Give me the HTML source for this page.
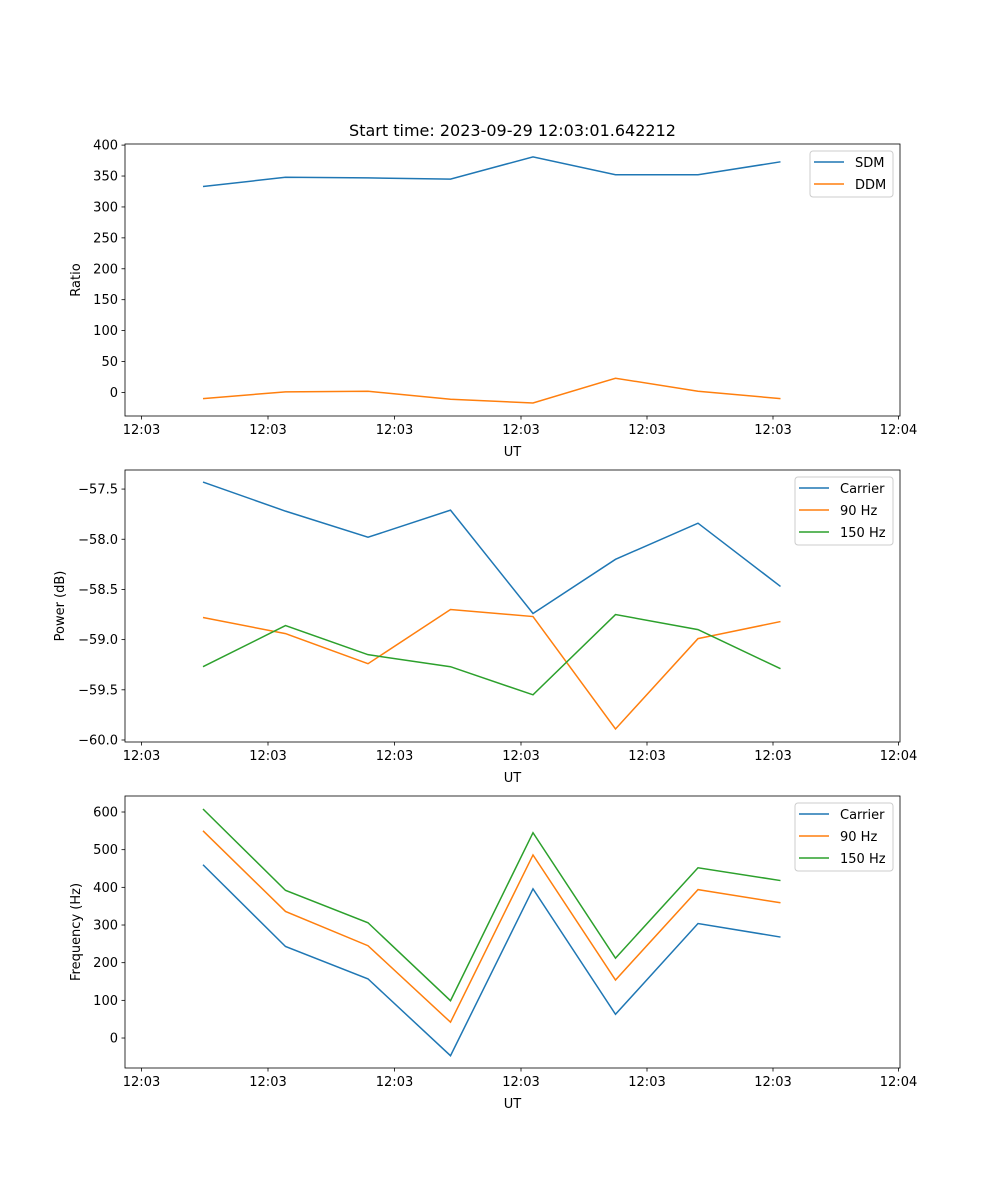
<!DOCTYPE html>
<html><head><meta charset="utf-8"><style>
body{margin:0;background:#fff;}
svg{display:block;font-family:"DejaVu Sans","Liberation Sans",sans-serif;}
</style></head><body>
<svg id="fig" width="1000" height="1200" xmlns="http://www.w3.org/2000/svg"></svg>
<script>
const categories = ["p0","p1","p2","p3","p4","p5","p6","p7"];
const xTickLabels = ["12:03","12:03","12:03","12:03","12:03","12:03","12:04"];
const sdm = [333,348,347,345,381,352,352,373];
const ddm = [-10,1,2,-11,-17,23,2,-10];
const powCarrier = [-57.43,-57.72,-57.98,-57.71,-58.74,-58.20,-57.84,-58.47];
const pow90 = [-58.78,-58.94,-59.24,-58.70,-58.77,-59.89,-58.99,-58.82];
const pow150 = [-59.27,-58.86,-59.15,-59.27,-59.55,-58.75,-58.90,-59.29];
const freqCarrier = [460,243,157,-47,396,63,304,268];
const freq90 = [550,336,245,42,486,154,394,359];
const freq150 = [608,392,306,99,545,212,452,418];
const ratioTicks = [0,50,100,150,200,250,300,350,400];
const powTicks = [-60.0,-59.5,-59.0,-58.5,-58.0,-57.5];
const freqTicks = [0,100,200,300,400,500,600];

const NS="http://www.w3.org/2000/svg";
const svg=document.getElementById('fig');
function el(tag,attrs,parent){const e=document.createElementNS(NS,tag);for(const k in attrs)e.setAttribute(k,attrs[k]);(parent||svg).appendChild(e);return e;}
const L=125,R=900;
// x scale: category index
function xs(i){return 203+i*82.5;}
const xTickPos=[141.5,268,394.5,521,647,773,898.5];
const C=["#1f77b4","#ff7f0e","#2ca02c"];

function panel(name,top,bottom,ymin,ymax,ticks,fmt,ylabel,series,labels,legend){
  const g=el('g',{});
  
  
  const ys=v=>bottom-(v-ymin)/(ymax-ymin)*(bottom-top);
  ticks.forEach(t=>{
    const y=ys(t);
    el('line',{x1:L-3.5,x2:L,y1:y,y2:y,stroke:'#000','stroke-width':0.8},g);
    const tx=el('text',{x:L-7,y:y+4.5,'text-anchor':'end','font-size':13},g);
    tx.textContent=fmt(t);
    
    
  });
  xTickPos.forEach((x,i)=>{
    el('line',{x1:x,x2:x,y1:bottom,y2:bottom+3.5,stroke:'#000','stroke-width':0.8},g);
    const tx=el('text',{x:x,y:bottom+18,'text-anchor':'middle','font-size':13},g);
    tx.textContent=xTickLabels[i];
    
    
  });
  series.forEach((s,k)=>{
    const p=el('polyline',{points:s.map((v,i)=>xs(i)+','+ys(v)).join(' '),fill:'none',stroke:C[k],'stroke-width':1.5},g);
    
    
  });
  el('rect',{x:L,y:top,width:R-L,height:bottom-top,fill:'none',stroke:'#000','stroke-width':0.8},g);
  const xl=el('text',{x:(L+R)/2,y:bottom+40,'text-anchor':'middle','font-size':13},g);
  xl.textContent='UT';
  
  
  const yl=el('text',{x:0,y:0,'text-anchor':'middle','font-size':13,transform:`translate(${legend.ylx},${(top+bottom)/2}) rotate(-90)`},g);
  yl.textContent=ylabel;
  
  
  const lg=el('g',{},g);
  
  
  el('rect',{x:legend.x,y:top+7,width:legend.w,height:labels.length*22+2,rx:3,fill:'#fff',stroke:'#ccc','stroke-width':1},lg);
  labels.forEach((lab,k)=>{
    const y=top+18+k*22;
    el('line',{x1:legend.x+4,x2:legend.x+34,y1:y,y2:y,stroke:C[k],'stroke-width':1.5},lg);
    const t=el('text',{x:legend.x+45,y:y+5,'font-size':13},lg);
    t.textContent=lab;
    
    
  });
}
const fmtInt=v=>String(v).replace('-','\u2212');
const fmtF=v=>v.toFixed(1).replace('-','\u2212');
panel('ratio-panel',144,416,-38.1,401.8,ratioTicks,fmtInt,'Ratio',[sdm,ddm],['SDM','DDM'],{x:810,w:83,ylx:80});
panel('power-panel',470,742,-60.02,-57.31,powTicks,fmtF,'Power (dB)',[powCarrier,pow90,pow150],['Carrier','90 Hz','150 Hz'],{x:795,w:98,ylx:64});
panel('frequency-panel',796,1068,-79.6,642.5,freqTicks,fmtInt,'Frequency (Hz)',[freqCarrier,freq90,freq150],['Carrier','90 Hz','150 Hz'],{x:795,w:98,ylx:80});
const title=el('text',{x:512.5,y:136,'text-anchor':'middle','font-size':16});
title.textContent='Start time: 2023-09-29 12:03:01.642212';


</script>
</body></html>
